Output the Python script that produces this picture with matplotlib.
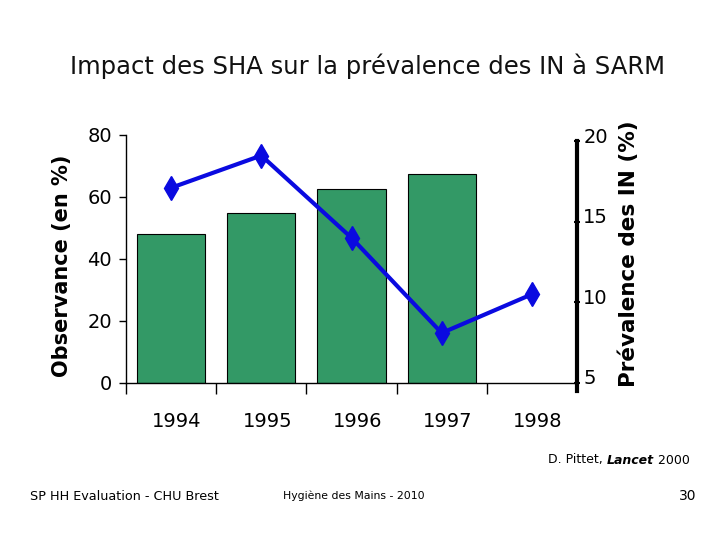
import matplotlib
matplotlib.use("Agg")
import matplotlib.pyplot as plt
import matplotlib.transforms as mtransforms
import numpy as np

years = ["1994", "1995", "1996", "1997", "1998"]
observance = [48.0, 54.8, 62.6, 67.3, None]
prevalence = [17.1, 19.1, 14.0, 8.1, 10.5]
left_ticks = [0, 20, 40, 60, 80]
right_ticks = [5, 10, 15, 20]

title = "Impact des SHA sur la prévalence des IN à SARM"
ylabel_left = "Observance (en %)"
ylabel_right = "Prévalence des IN (%)"

fig = plt.figure(figsize=(7.2, 5.4), dpi=100)
ax = fig.add_axes([126/720, 1-383/540, (577-126)/720, (383-135)/540])

x = np.arange(len(years))
bx = [i for i, v in enumerate(observance) if v is not None]
bv = [v for v in observance if v is not None]
ax.bar(bx, bv, width=0.755, color="#339966", edgecolor="black", linewidth=0.8, zorder=2)

ax.set_xlim(-0.5, len(years) - 0.5)
ax.set_ylim(0, 80)
ax.set_yticks(left_ticks)
ax.set_yticklabels([str(t) for t in left_ticks], fontsize=14)
ax.tick_params(axis="y", direction="out", length=5, width=1, pad=5)
ax.set_xticks(np.arange(-0.5, len(years) - 1, 1.0), minor=True)
ax.set_xticks(x)
ax.set_xticklabels(years, fontsize=14)
ax.tick_params(axis="x", which="major", length=0, pad=21)
ax.tick_params(axis="x", which="minor", direction="out", length=8, width=1)
off = mtransforms.ScaledTranslation(6/100, 0, fig.dpi_scale_trans)
for lab in ax.get_xticklabels():
    lab.set_transform(lab.get_transform() + off)
for s in ["top", "right"]:
    ax.spines[s].set_visible(False)
ax.spines["left"].set_linewidth(1)
ax.spines["bottom"].set_linewidth(1)

ax2 = ax.twinx()
ax2.plot(x, prevalence, color="#0a0ae0", linewidth=3, marker="d", markersize=12,
         markerfacecolor="#0a0ae0", markeredgecolor="#0a0ae0", zorder=3)
ax2.set_ylim(5, 20 + 6/16.07)
ax2.set_yticks(right_ticks)
ax2.set_yticklabels([str(t) for t in right_ticks], fontsize=14)
ax2.tick_params(axis="y", direction="inout", length=5, width=1.5, pad=2)
off2 = mtransforms.ScaledTranslation(0, 6/100, fig.dpi_scale_trans)
for lab in ax2.get_yticklabels():
    lab.set_transform(lab.get_transform() + off2)
for s in ["top", "left", "bottom"]:
    ax2.spines[s].set_visible(False)
ax2.spines["right"].set_linewidth(3)
ax2.spines["right"].set_bounds(4.5, 20)
ax.set_zorder(1)
ax2.set_zorder(2)
ax2.patch.set_visible(False)

fig.text(367/720, 1-66/540, title, ha="center", va="center", fontsize=17.5, color="#111111")
fig.text(62/720, 1-266/540, ylabel_left, rotation=90, ha="center", va="center",
         fontsize=15, fontweight="bold")
fig.text(629/720, 1-254/540, ylabel_right, rotation=90, ha="center", va="center",
         fontsize=15.5, fontweight="bold")

renderer = fig.canvas.get_renderer()
# "D. Pittet, Lancet 2000" with bold italic "Lancet"
t3 = fig.text(690/720, 1-460/540, " 2000", ha="right", va="center", fontsize=9)
bb3 = t3.get_window_extent(renderer=renderer)
t2 = fig.text(bb3.x0/720, 1-460/540, "Lancet", ha="right", va="center", fontsize=9,
              fontweight="bold", fontstyle="italic")
bb2 = t2.get_window_extent(renderer=renderer)
fig.text(bb2.x0/720, 1-460/540, "D. Pittet, ", ha="right", va="center", fontsize=9)

fig.text(30/720, 1-496/540, "SP HH Evaluation - CHU Brest", ha="left", va="center", fontsize=9.2)
fig.text(283/720, 1-496/540, "Hygiène des Mains - 2010", ha="left", va="center", fontsize=7.8)
fig.text(696/720, 1-496/540, "30", ha="right", va="center", fontsize=10)

fig.savefig("out.png", dpi=100)
